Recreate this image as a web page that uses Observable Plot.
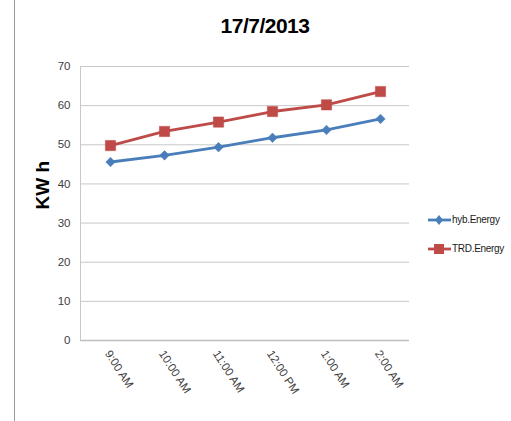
<!DOCTYPE html>
<html><head><meta charset="utf-8">
<script src="https://cdn.jsdelivr.net/npm/d3@7"></script>
<script src="https://cdn.jsdelivr.net/npm/@observablehq/plot@0.6"></script>
<style>
body{margin:0;background:#fff;}
#wrap{position:relative;width:511px;height:421px;overflow:hidden;font-family:"Liberation Sans",Arial,sans-serif;}
#border{position:absolute;left:14px;top:0;width:1px;height:421px;background:#9a9a9a;}
#title{position:absolute;left:165px;width:200px;top:14px;text-align:center;font-size:21px;font-weight:bold;color:#000;letter-spacing:-0.5px;}
#legend{position:absolute;left:428px;top:212px;font-size:10px;color:#1a1a1a;letter-spacing:-0.3px;}
#legend div{height:29px;display:flex;align-items:flex-start;white-space:nowrap;}
#legend svg{margin-right:1px;}
</style></head>
<body>
<div id="wrap"><div id="border"></div><div id="title">17/7/2013</div><div id="legend"></div></div>
<script>
const times = ["9:00 AM","10:00 AM","11:00 AM","12:00 PM","1:00 AM","2:00 AM"];
const hybEnergy = [45.6, 47.3, 49.4, 51.8, 53.8, 56.6];
const trdEnergy = [49.8, 53.4, 55.8, 58.5, 60.2, 63.6];
const seriesNames = ["hyb.Energy","TRD.Energy"];
const seriesColors = ["#4a7ebb","#be4b48"];
const yTicks = [0,10,20,30,40,50,60,70];

const data = [];
times.forEach((t,i)=>{
  data.push({time:t, value:hybEnergy[i], series:seriesNames[0]});
  data.push({time:t, value:trdEnergy[i], series:seriesNames[1]});
});
const hyb = data.filter(d=>d.series===seriesNames[0]);
const trd = data.filter(d=>d.series===seriesNames[1]);

const chart = Plot.plot({
  width:511, height:421,
  marginLeft:80, marginRight:102, marginTop:66, marginBottom:81,
  style:{fontFamily:'"Liberation Sans",Arial,sans-serif', fontSize:"11px", color:"#404040", background:"transparent"},
  x:{type:"point", domain:times, padding:0.5, label:null},
  y:{domain:[0,70], label:null},
  marks:[
    Plot.gridY(yTicks, {stroke:"#c8c8c8", strokeOpacity:1}),
    Plot.ruleY([0], {stroke:"#bdbdbd", strokeWidth:1.5}),
    Plot.frame({anchor:"left", stroke:"#c8c8c8"}),
    Plot.axisY(yTicks, {tickSize:0, tickPadding:10, fontSize:11.5}),
    Plot.axisX({tickSize:0, tickRotate:57, tickPadding:11, fontSize:11.5, dx:-3}),
    Plot.line(hyb, {x:"time", y:"value", stroke:seriesColors[0], strokeWidth:2.8}),
    Plot.line(trd, {x:"time", y:"value", stroke:seriesColors[1], strokeWidth:2.8}),
    Plot.dot(hyb, {x:"time", y:"value", symbol:"diamond2", r:4.3, fill:seriesColors[0], stroke:seriesColors[0], strokeWidth:0.5}),
    Plot.dot(trd, {x:"time", y:"value", symbol:"square", r:5.8, fill:seriesColors[1], stroke:seriesColors[1], strokeWidth:0.5}),
    Plot.text(["KW h"], {frameAnchor:"left", rotate:-90, dx:-38, dy:6, fontSize:19, fontWeight:"bold", fill:"#000", fontFamily:"Liberation Sans, Arial, sans-serif"})
  ]
});
chart.style.position="absolute"; chart.style.left="0"; chart.style.top="0";
document.getElementById("wrap").prepend(chart);

const leg = document.getElementById("legend");
seriesNames.forEach((name,i)=>{
  const row = document.createElement("div");
  const c = seriesColors[i];
  const marker = i===0
    ? `<path d="M11 3 L15 8 L11 13 L7 8 Z" fill="${c}"/>`
    : `<rect x="6" y="3" width="10" height="10" fill="${c}"/>`;
  row.innerHTML = `<svg width="23" height="16"><line x1="0" y1="8" x2="23" y2="8" stroke="${c}" stroke-width="2.8"/>${marker}</svg><span style="line-height:16px">${name}</span>`;
  leg.appendChild(row);
});
</script>
</body></html>
